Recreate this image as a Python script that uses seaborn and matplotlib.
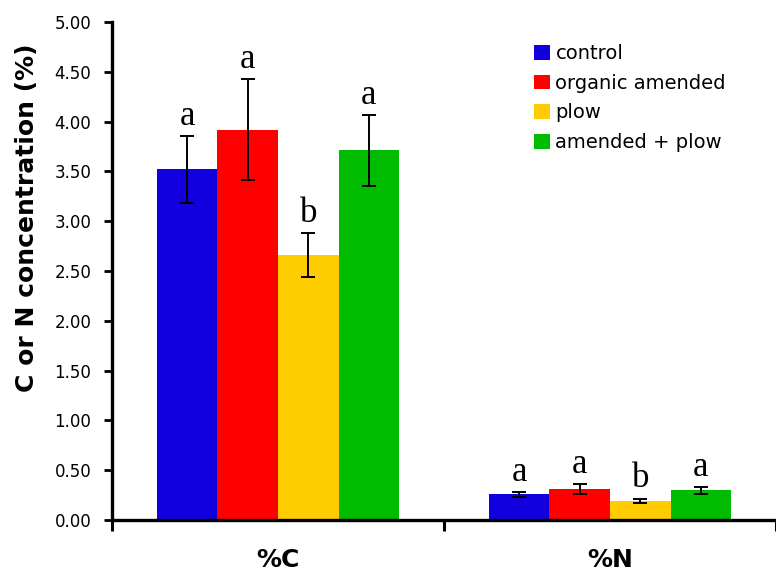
import matplotlib
matplotlib.use("Agg")
from matplotlib import pyplot as plt
from matplotlib.ticker import FormatStrFormatter
import pandas as pd
import seaborn as sns

# data
elements = ['%C', '%N']
treatments = ['control', 'organic amended', 'plow', 'amended + plow']
colors = ['#1100DD', '#FF0000', '#FFCC00', '#00BB00']
c_mean = [3.52, 3.92, 2.66, 3.71]
c_err = [0.335, 0.51, 0.225, 0.355]
n_mean = [0.26, 0.31, 0.195, 0.30]
n_err = [0.025, 0.05, 0.02, 0.034]
c_letters = ['a', 'a', 'b', 'a']
n_letters = ['a', 'a', 'b', 'a']

df = pd.DataFrame({
    'element': ['%C'] * 4 + ['%N'] * 4,
    'treatment': treatments * 2,
    'value': c_mean + n_mean,
    'err': c_err + n_err,
    'letter': c_letters + n_letters,
})

sns.set_style("ticks", {'axes.edgecolor': 'black', 'text.color': 'black',
                        'xtick.color': 'black', 'ytick.color': 'black',
                        'axes.labelcolor': 'black'})
plt.rcParams['font.family'] = ['DejaVu Sans']

fig = plt.figure(figsize=(7.76, 5.71), dpi=100)
ax = fig.add_axes([112 / 776, 51 / 571, 664 / 776, 498 / 571])

sns.barplot(data=df, x='element', y='value', hue='treatment', order=elements,
            hue_order=treatments, palette=colors, errorbar=None, width=0.73,
            saturation=1, linewidth=0, ax=ax)

# error bars and significance letters
bar_groups = list(ax.containers)
for i, cont in enumerate(bar_groups):
    sub = df[df['treatment'] == treatments[i]].set_index('element').loc[elements]
    for bar, (_, row) in zip(cont, sub.iterrows()):
        xc = bar.get_x() + bar.get_width() / 2
        ax.errorbar(xc, row['value'], yerr=row['err'], color='black',
                    elinewidth=1.4, capsize=5, capthick=1.4, zorder=3)
        ax.annotate(row['letter'], (xc, row['value'] + row['err']),
                    xytext=(0, 8), textcoords='offset points', ha='center',
                    va='baseline', fontsize=25, family='Liberation Serif',
                    color='black')

ax.set_ylim(0, 5)
ax.set_xlim(-0.5, -0.5 + 664 / 334)
ax.set_yticks([i * 0.5 for i in range(11)])
ax.yaxis.set_major_formatter(FormatStrFormatter('%.2f'))
ax.tick_params(axis='y', labelsize=12, length=6, width=2, pad=9, colors='black')
ax.tick_params(axis='x', which='major', length=0, pad=20, labelsize=18,
               colors='black')
ax.set_xticks([-0.5, 0.5, 1.5], minor=True)
ax.tick_params(axis='x', which='minor', length=8, width=2.2, colors='black')
for lab in ax.get_xticklabels():
    lab.set_fontweight('bold')

sns.despine(ax=ax)
ax.spines['left'].set_linewidth(2.4)
ax.spines['bottom'].set_linewidth(2.4)

ax.set_xlabel('')
ax.set_ylabel('C or N concentration (%)', fontsize=18, fontweight='bold',
              color='black')
ax.yaxis.set_label_coords(-0.11, 0.606)

leg = ax.legend(loc='upper left', bbox_to_anchor=(534 / 776, 1 - 44 / 571),
                bbox_transform=fig.transFigure, frameon=False, fontsize=14,
                handlelength=0.8, handleheight=0.8, handletextpad=0.3,
                labelspacing=0.55, borderpad=0, borderaxespad=0)
for t in leg.get_texts():
    t.set_color('black')

fig.savefig('out.png', dpi=100)
